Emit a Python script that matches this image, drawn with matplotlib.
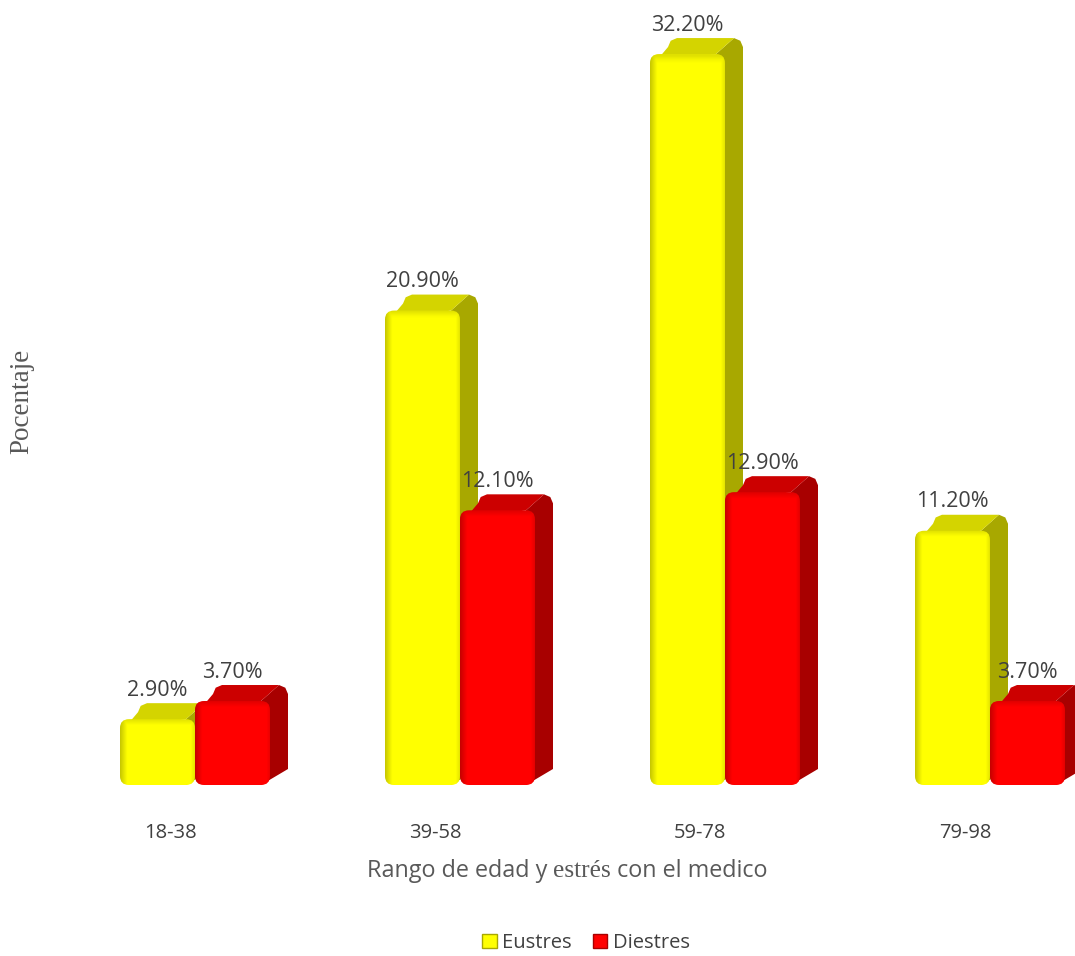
import matplotlib
matplotlib.use("Agg")
import matplotlib.pyplot as plt
from matplotlib.patches import FancyBboxPatch, Polygon, Patch
import numpy as np

categories = ["18-38", "39-58", "59-78", "79-98"]
eustres = [2.9, 20.9, 32.2, 11.2]
diestres = [3.7, 12.1, 12.9, 3.7]
series_names = ["Eustres", "Diestres"]

W, H = 1075, 956
fig = plt.figure(figsize=(W / 100, H / 100), dpi=100)
ax = fig.add_axes([0, 0, 1, 1])

# pixel geometry of the pseudo-3D plot
px_per_cat = 265.0
px_per_pct = 22.7
x0_px, base_px = 195.0, 785.0
xlim = (-x0_px / px_per_cat, (W - x0_px) / px_per_cat)
ylim = (-(H - base_px) / px_per_pct, base_px / px_per_pct)
ax.set_xlim(*xlim)
ax.set_ylim(*ylim)
ax.axis("off")

bw = 75 / px_per_cat
dx = 18 / px_per_cat
dy = 16 / px_per_pct
rx = 9 / px_per_cat
ry = 9 / px_per_pct

styles = [
    dict(front="#FFFF00", side="#A8A800", top="#D4D400"),
    dict(front="#FF0000", side="#A80000", top="#CC0000"),
]


def bevel_shade(patch, xl, v, z):
    # darken a thin band along the left and top edges of the front face
    n_x, n_y = 80, 200
    wpx = bw * px_per_cat
    hpx = v * px_per_pct
    xs = np.linspace(0, wpx, n_x)
    ys = np.linspace(hpx, 0, n_y)
    X, Y = np.meshgrid(xs, ys)
    left = np.clip(1 - X / 7.0, 0, 1)
    topb = np.clip(1 - (hpx - Y) / 6.0, 0, 1)
    right = np.clip(1 - (wpx - X) / 4.0, 0, 1)
    a = np.maximum(np.maximum(left * 0.22, topb * 0.12), right * 0.10)
    img = np.zeros((n_y, n_x, 4))
    img[..., 3] = a
    im = ax.imshow(img, extent=(xl, xl + bw, 0, v), aspect="auto",
                   interpolation="bilinear", zorder=z + 0.2)
    im.set_clip_path(patch)


def bar3d(xl, v, st, z):
    xr = xl + bw
    side = Polygon([(xr - rx, 0), (xr + dx, dy), (xr + dx, v + dy - ry),
                    (xr + dx - 0.3 * rx, v + dy - 0.3 * ry),
                    (xr + dx - rx, v + dy), (xr - rx, v)],
                   closed=True, fc=st["side"], ec="none", zorder=z)
    top = Polygon([(xl + 0.5 * rx, v - ry), (xl + dx, v + dy - ry),
                   (xl + dx + 0.3 * rx, v + dy - 0.3 * ry), (xl + dx + rx, v + dy),
                   (xr + dx - rx, v + dy), (xr - rx, v)],
                  closed=True, fc=st["top"], ec="none", zorder=z)
    front = FancyBboxPatch((xl, 0), bw, v,
                           boxstyle=f"round,pad=0,rounding_size={rx}",
                           mutation_aspect=ry / rx,
                           fc=st["front"], ec="none", zorder=z + 0.1)
    for p in (side, top, front):
        ax.add_patch(p)
    bevel_shade(front, xl, v, z)


for i in range(len(categories)):
    for s, vals in enumerate([eustres, diestres]):
        xl = i - bw + s * bw
        v = vals[i]
        bar3d(xl, v, styles[s], 2 + i * 2 + s)
        ax.text(xl + bw / 2, v + 29 / px_per_pct, f"{v:.2f}%", ha="center", va="center",
                fontsize=15.5, color="#404040", family="Open Sans", zorder=20)
    ax.text(i - 25 / px_per_cat, -48 / px_per_pct, categories[i], ha="center", va="center",
            fontsize=14.5, color="#404040", family="Open Sans")

ax.set_xlim(*xlim)
ax.set_ylim(*ylim)

# x-axis title: sans text with a serif word in the middle
fig.canvas.draw()
r = fig.canvas.get_renderer()
parts = [("Rango de edad y ", "Open Sans", 16.8), ("estrés", "Liberation Serif", 18.3),
         (" con el medico", "Open Sans", 16.8)]
x_cur = 367
for txt, fam, fs in parts:
    t = fig.text(x_cur / W, 1 - 877 / H, txt, ha="left", va="baseline", fontsize=fs,
                 color="#595959", family=fam)
    bb = t.get_window_extent(renderer=r)
    x_cur += bb.width

fig.text(22 / W, 1 - 401 / H, "Pocentaje", rotation=90, ha="center", va="center",
         fontsize=19.5, color="#595959", family="Liberation Serif")

handles = [Patch(fc=styles[0]["front"], ec=styles[0]["side"]),
           Patch(fc=styles[1]["front"], ec=styles[1]["side"])]
leg = fig.legend(handles, series_names, loc="center", bbox_to_anchor=(586 / W, 1 - 943 / H),
                 ncol=2, frameon=False, handlelength=0.7, handleheight=0.7,
                 handletextpad=0.25, columnspacing=1.1,
                 prop=dict(family="Open Sans", size=14.5))
for t in leg.get_texts():
    t.set_color("#404040")

fig.savefig("out.png", dpi=100)
